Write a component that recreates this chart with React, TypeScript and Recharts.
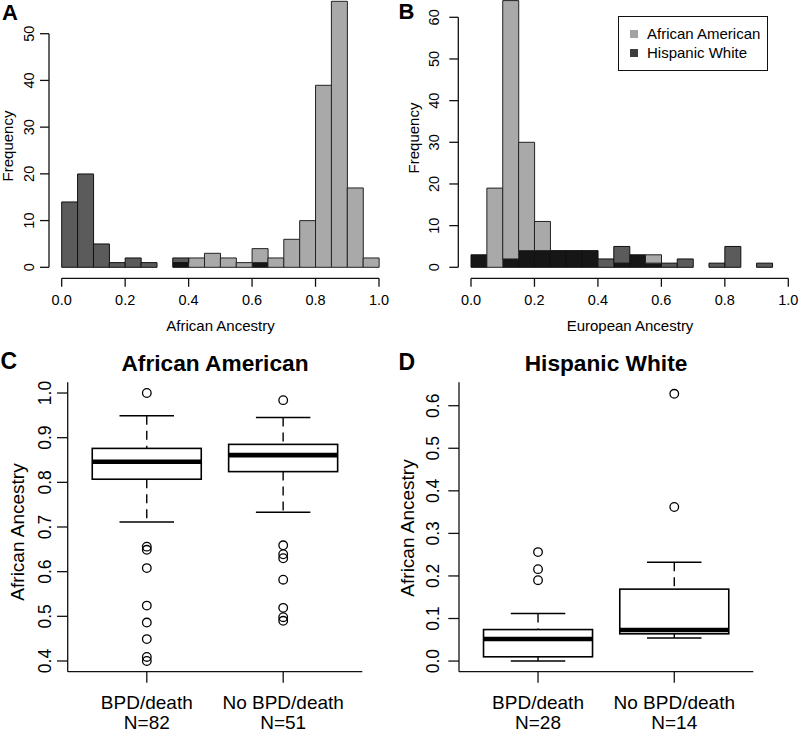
import React from 'react'
import { BarChart, ComposedChart, Bar, Scatter, XAxis, YAxis, Legend } from 'recharts'

const FONT = '"Liberation Sans", Arial, Helvetica, sans-serif'

// histogram bins (left edges, width 0.05)
const BIN_STARTS = [0, 0.05, 0.1, 0.15, 0.2, 0.25, 0.3, 0.35, 0.4, 0.45, 0.5, 0.55, 0.6, 0.65, 0.7, 0.75, 0.8, 0.85, 0.9, 0.95]
const AFR_ANC_AA = [0, 0, 0, 0, 0, 0, 0, 1, 2, 3, 2, 1, 4, 2, 6, 10, 39, 57, 17, 2]
const AFR_ANC_HW = [14, 20, 5, 1, 2, 1, 0, 2, 0, 0, 0, 0, 1, 0, 0, 0, 0, 0, 0, 0]
const EUR_ANC_AA = [3, 19, 64, 30, 11, 4, 4, 4, 0, 1, 3, 3, 0, 0, 0, 0, 0, 0, 0, 0]
const EUR_ANC_HW = [3, 0, 2, 4, 4, 4, 4, 4, 2, 5, 3, 1, 1, 2, 0, 1, 5, 0, 1, 0]
const HIST_X_TICKS = [0, 0.2, 0.4, 0.6, 0.8, 1]
const A_Y_TICKS = [0, 10, 20, 30, 40, 50]
const B_Y_TICKS = [0, 10, 20, 30, 40, 50, 60]

const LEGEND_ITEMS = [
  { label: 'African American', color: '#a3a3a3' },
  { label: 'Hispanic White', color: '#3d3d3d' },
]

// boxplots
const GROUPS = ['BPD/death', 'No BPD/death']
const GROUP_POS = [1, 2]
const BOX_X_DOMAIN = [0.42, 2.58]

const C_N = [82, 51]
const C_LO = [0.711, 0.733]
const C_Q1 = [0.807, 0.824]
const C_MED = [0.846, 0.861]
const C_Q3 = [0.876, 0.885]
const C_HI = [0.949, 0.945]
const C_OUTLIERS = [
  [1.0, 0.656, 0.649, 0.608, 0.524, 0.486, 0.449, 0.409, 0.4],
  [0.984, 0.659, 0.639, 0.63, 0.582, 0.519, 0.498, 0.49],
]
const C_Y_TICKS = [0.4, 0.5, 0.6, 0.7, 0.8, 0.9, 1.0]

const D_N = [28, 14]
const D_LO = [0.0, 0.054]
const D_Q1 = [0.01, 0.064]
const D_MED = [0.052, 0.073]
const D_Q3 = [0.074, 0.169]
const D_HI = [0.112, 0.232]
const D_OUTLIERS = [
  [0.256, 0.216, 0.19],
  [0.628, 0.362],
]
const D_Y_TICKS = [0, 0.1, 0.2, 0.3, 0.4, 0.5, 0.6]

const C_FILL = { both: '#161616', aa: '#a9a9a9', hw: '#5b5b5b' }
const LINE = { stroke: '#111', strokeWidth: 1.3 }

function histRows(aa: number[], hw: number[]) {
  return BIN_STARTS.map((b, i) => ({
    bin: b,
    both: Math.min(aa[i], hw[i]),
    aaOnly: Math.max(aa[i] - hw[i], 0),
    hwOnly: Math.max(hw[i] - aa[i], 0),
  }))
}

function boxRows(lo: number[], q1: number[], med: number[], q3: number[], hi: number[]) {
  return GROUP_POS.map((g, i) => ({ grp: g, lo: lo[i], q1: q1[i], med: med[i], q3: q3[i], hi: hi[i] }))
}

function outlierRows(groups: number[][]) {
  return groups.flatMap((vals, i) => vals.map((v) => ({ grp: GROUP_POS[i], v })))
}

function RotTick(props: any) {
  const { x, y, payload, fontSize, digits } = props
  const label = digits ? Number(payload.value).toFixed(digits) : String(payload.value)
  return (
    <text
      x={x}
      y={y}
      transform={`rotate(-90, ${x}, ${y})`}
      textAnchor="middle"
      dominantBaseline="central"
      fontSize={fontSize}
      fill="#000"
    >
      {label}
    </text>
  )
}

function GroupTick(props: any) {
  const { x, y, payload, counts } = props
  const i = GROUP_POS.indexOf(payload.value)
  return (
    <text x={x} y={y} textAnchor="middle" fontSize={19} fill="#000">
      <tspan x={x} dy="0.71em">{GROUPS[i]}</tspan>
      <tspan x={x} dy={20.5}>{`N=${counts[i]}`}</tspan>
    </text>
  )
}

// box drawn from the range bar [q1, q3]; other stats mapped with the same px/unit
function BoxShape(props: any) {
  const { x, y, width, height, payload } = props
  if (width == null || height == null) return null
  const { lo, q1, med, q3, hi } = payload
  const k = height / (q3 - q1)
  const py = (v: number) => y + (q3 - v) * k
  const cx = x + width / 2
  const cap = width / 4
  return (
    <g>
      <line x1={cx} x2={cx} y1={py(hi)} y2={y} stroke="#000" strokeWidth={1.4} strokeDasharray="9 6" />
      <line x1={cx} x2={cx} y1={y + height} y2={py(lo)} stroke="#000" strokeWidth={1.4} strokeDasharray="9 6" />
      <line x1={cx - cap} x2={cx + cap} y1={py(hi)} y2={py(hi)} stroke="#000" strokeWidth={1.5} />
      <line x1={cx - cap} x2={cx + cap} y1={py(lo)} y2={py(lo)} stroke="#000" strokeWidth={1.5} />
      <rect x={x} y={y} width={width} height={height} fill="#fff" stroke="#000" strokeWidth={1.6} />
      <line x1={x} x2={x + width} y1={py(med)} y2={py(med)} stroke="#000" strokeWidth={4.6} />
    </g>
  )
}

function OutlierDot(props: any) {
  return <circle cx={props.cx} cy={props.cy} r={4.3} fill="none" stroke="#000" strokeWidth={1.3} />
}

function LegendBox() {
  return (
    <div
      style={{
        boxSizing: 'border-box',
        width: 149.4,
        height: 55,
        border: '1px solid #111',
        background: '#fff',
        position: 'relative',
        fontSize: 15,
        fontFamily: FONT,
        color: '#000',
      }}
    >
      {LEGEND_ITEMS.map((it, i) => (
        <div
          key={it.label}
          style={{ position: 'absolute', left: 10.7, top: 9.3 + i * 18.7, height: 16, display: 'flex', alignItems: 'center', whiteSpace: 'nowrap' }}
        >
          <span style={{ display: 'inline-block', width: 8, height: 8, background: it.color, marginRight: 9 }} />
          <span style={{ lineHeight: 1 }}>{it.label}</span>
        </div>
      ))}
    </div>
  )
}

function HistPanel(props: { left: number; width: number; margin: any; rows: any[]; legend?: boolean }) {
  const { left, width, margin, rows, legend } = props
  return (
    <div style={{ position: 'absolute', left, top: 0 }}>
      <BarChart width={width} height={340} data={rows} margin={margin} barCategoryGap={0} barGap={0}>
        <XAxis
          xAxisId="num"
          type="number"
          dataKey="bin"
          domain={[0, 1]}
          allowDataOverflow
          ticks={HIST_X_TICKS}
          interval={0}
          height={30}
          tickSize={8.5}
          tickMargin={8.2}
          tickFormatter={(v: number) => v.toFixed(1)}
          tick={{ fill: '#000', fontSize: 14.5 }}
          axisLine={LINE}
          tickLine={LINE}
        />
        <XAxis xAxisId="bins" dataKey="bin" height={0} hide />
        <YAxis type="number" domain={[0, 'dataMax']} padding={{ bottom: 11 }} width={0} hide />
        <Bar xAxisId="bins" dataKey="both" stackId="s" fill={C_FILL.both} stroke="#111" strokeWidth={1} isAnimationActive={false} />
        <Bar xAxisId="bins" dataKey="aaOnly" stackId="s" fill={C_FILL.aa} stroke="#222" strokeWidth={1} isAnimationActive={false} />
        <Bar xAxisId="bins" dataKey="hwOnly" stackId="s" fill={C_FILL.hw} stroke="#111" strokeWidth={1} isAnimationActive={false} />
        {legend && (
          <Legend
            layout="vertical"
            align="center"
            verticalAlign="middle"
            content={() => <LegendBox />}
            wrapperStyle={{ left: 218.3, top: 15.7, width: 149.4, height: 55 }}
          />
        )}
      </BarChart>
    </div>
  )
}

// R-style y axis that only spans first..last tick
function HistYAxis(props: { left: number; width: number; axisWidth: number; top: number; ticks: number[]; tickMargin: number }) {
  const { left, width, axisWidth, top, ticks, tickMargin } = props
  return (
    <div style={{ position: 'absolute', left, top: 0 }}>
      <ComposedChart width={width} height={300} margin={{ top, right: 0, bottom: 300 - 267.3, left: 0 }}>
        <YAxis
          type="number"
          domain={[ticks[0], ticks[ticks.length - 1]]}
          allowDataOverflow
          ticks={ticks}
          interval={0}
          width={axisWidth}
          tickSize={9}
          tickMargin={tickMargin}
          axisLine={LINE}
          tickLine={LINE}
          tick={(p: any) => <RotTick {...p} fontSize={14.5} />}
        />
      </ComposedChart>
    </div>
  )
}

function BoxPanel(props: {
  left: number
  width: number
  margin: any
  domain: number[]
  ticks: number[]
  rows: any[]
  outliers: any[]
  counts: number[]
  tickMargin: number
}) {
  const { left, width, margin, domain, ticks, rows, outliers, counts, tickMargin } = props
  return (
    <div style={{ position: 'absolute', left, top: 340 }}>
      <ComposedChart width={width} height={392} data={rows} margin={margin}>
        <XAxis
          xAxisId="grp"
          type="number"
          dataKey="grp"
          domain={BOX_X_DOMAIN}
          allowDataOverflow
          ticks={GROUP_POS}
          interval={0}
          height={58}
          tickSize={11}
          tickMargin={12.5}
          axisLine={LINE}
          tickLine={LINE}
          tick={(p: any) => <GroupTick {...p} counts={counts} />}
        />
        <XAxis xAxisId="pts" type="number" dataKey="grp" domain={BOX_X_DOMAIN} allowDataOverflow height={0} hide />
        <XAxis xAxisId="top" orientation="top" type="number" domain={[0, 1]} allowDataOverflow height={0} tick={false} tickLine={false} axisLine={LINE} />
        <YAxis
          type="number"
          domain={domain}
          ticks={ticks}
          interval={0}
          width={50}
          tickSize={10.7}
          tickMargin={tickMargin}
          axisLine={LINE}
          tickLine={LINE}
          tick={(p: any) => <RotTick {...p} fontSize={17.5} digits={1} />}
        />
        <YAxis yAxisId="right" orientation="right" type="number" domain={[0, 1]} allowDataOverflow width={0} tick={false} tickLine={false} axisLine={LINE} />
        <Bar xAxisId="grp" dataKey={(d: any) => [d.q1, d.q3]} shape={BoxShape} isAnimationActive={false} />
        <Scatter xAxisId="pts" data={outliers} dataKey="v" shape={OutlierDot} isAnimationActive={false} />
      </ComposedChart>
    </div>
  )
}

function Txt(props: { x: number; y: number; size: number; bold?: boolean; rotate?: boolean; left?: boolean; children: React.ReactNode }) {
  const { x, y, size, bold, rotate, left, children } = props
  const tf = left ? 'translate(0,-50%)' : rotate ? 'translate(-50%,-50%) rotate(-90deg)' : 'translate(-50%,-50%)'
  return (
    <div
      style={{
        position: 'absolute',
        left: x,
        top: y,
        transform: tf,
        fontSize: size,
        fontWeight: bold ? 700 : 400,
        lineHeight: 1,
        whiteSpace: 'nowrap',
        color: '#000',
      }}
    >
      {children}
    </div>
  )
}

export default function App() {
  const aRows = histRows(AFR_ANC_AA, AFR_ANC_HW)
  const bRows = histRows(EUR_ANC_AA, EUR_ANC_HW)
  const cRows = boxRows(C_LO, C_Q1, C_MED, C_Q3, C_HI)
  const dRows = boxRows(D_LO, D_Q1, D_MED, D_Q3, D_HI)

  return (
    <div style={{ position: 'absolute', left: 0, top: 0, width: 799, height: 732, background: '#fff', fontFamily: FONT, overflow: 'hidden' }}>
      {/* A */}
      <HistPanel left={0} width={400} rows={aRows} margin={{ top: 1.3, right: 21, bottom: 31.7, left: 61.7 }} />
      <HistYAxis left={0} width={60} axisWidth={49} top={33.7} ticks={A_Y_TICKS} tickMargin={10.8} />
      {/* B */}
      <HistPanel left={400} width={399} rows={bRows} legend margin={{ top: 0.6, right: 10.7, bottom: 31.7, left: 71 }} />
      <HistYAxis left={400} width={70} axisWidth={58.3} top={17.3} ticks={B_Y_TICKS} tickMargin={15} />
      {/* C, D */}
      <BoxPanel
        left={0}
        width={400}
        rows={cRows}
        outliers={outlierRows(C_OUTLIERS)}
        counts={C_N}
        domain={[0.376, 1.024]}
        ticks={C_Y_TICKS}
        tickMargin={12.3}
        margin={{ top: 42.3, right: 37.7, bottom: 2.3, left: 17.7 }}
      />
      <BoxPanel
        left={400}
        width={399}
        rows={dRows}
        outliers={outlierRows(D_OUTLIERS)}
        counts={D_N}
        domain={[-0.025, 0.655]}
        ticks={D_Y_TICKS}
        tickMargin={15}
        margin={{ top: 42.3, right: 45.7, bottom: 2.3, left: 9 }}
      />

      <Txt x={2} y={12.5} size={22} bold left>A</Txt>
      <Txt x={398.5} y={12} size={22} bold left>B</Txt>
      <Txt x={0.5} y={360.5} size={23} bold left>C</Txt>
      <Txt x={398.5} y={361.5} size={23} bold left>D</Txt>

      <Txt x={7} y={146} size={15} rotate>Frequency</Txt>
      <Txt x={413.3} y={138} size={15} rotate>Frequency</Txt>
      <Txt x={220.5} y={324.5} size={15}>African Ancestry</Txt>
      <Txt x={630} y={324.5} size={15}>European Ancestry</Txt>

      <Txt x={215} y={362.7} size={22.7} bold>African American</Txt>
      <Txt x={606} y={362.5} size={22.7} bold>Hispanic White</Txt>
      <Txt x={17} y={532} size={19} rotate>African Ancestry</Txt>
      <Txt x={407} y={527.5} size={19} rotate>African Ancestry</Txt>
    </div>
  )
}
